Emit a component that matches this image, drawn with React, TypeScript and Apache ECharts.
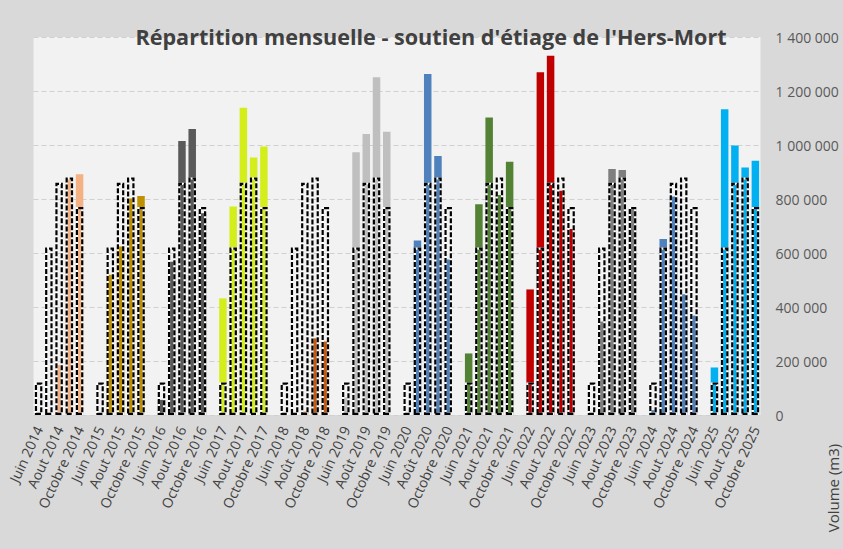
import React, { useEffect, useRef } from "react";
import * as echarts from "echarts";

const years = ["2014", "2015", "2016", "2017", "2018", "2019", "2020", "2021", "2022", "2023", "2024", "2025"];
const months = ["Juin", "Juillet", "Aout", "Septembre", "Octobre"];
const accentYears = ["2018", "2019", "2020"]; // "Août" spelled with accent on these years

// Objective volumes (dashed outline), per month Juin..Octobre
const objectif = [120000, 620000, 860000, 880000, 770000];

// Monthly released volumes (m3), Juin..Octobre
const v2014 = [0, 0, 185000, 878000, 892000];
const v2015 = [0, 519000, 624000, 802000, 811000];
const v2016 = [56000, 568000, 1015000, 1059000, 747000];
const v2017 = [432000, 772000, 1138000, 954000, 994000];
const v2018 = [0, 0, 12000, 284000, 272000];
const v2019 = [65000, 973000, 1041000, 1251000, 1049000];
const v2020 = [0, 646000, 1263000, 959000, 576000];
const v2021 = [228000, 781000, 1102000, 815000, 938000];
const v2022 = [465000, 1269000, 1331000, 831000, 689000];
const v2023 = [0, 346000, 911000, 907000, 768000];
const v2024 = [18000, 652000, 809000, 447000, 368000];
const v2025 = [176000, 1132000, 998000, 917000, 942000];
const volumes = [v2014, v2015, v2016, v2017, v2018, v2019, v2020, v2021, v2022, v2023, v2024, v2025];

const yearColors = ["#F4B183", "#BF9000", "#5A5A5A", "#D4EE1C", "#C55A11", "#BFBFBF", "#4F81BD", "#548235", "#C00000", "#7F7F7F", "#4F81BD", "#00B0F0"];

const FONT = "'Open Sans', 'Noto Sans', sans-serif";

export default function App() {
  const ref = useRef<HTMLDivElement>(null);

  useEffect(() => {
    if (!ref.current) return;
    const chart = echarts.init(ref.current, null, { renderer: "svg" });

    const categories: string[] = [];
    const volData: any[] = [];
    const objData: any[] = [];
    years.forEach((y, yi) => {
      months.forEach((m, mi) => {
        const name = m === "Aout" && accentYears.includes(y) ? "Août" : m;
        categories.push(name + " " + y);
        const v = volumes[yi][mi];
        volData.push({ value: v, itemStyle: { color: yearColors[yi] } });
        objData.push(objectif[mi]);
      });
      if (yi < years.length - 1) {
        categories.push("");
        volData.push("-");
        objData.push("-");
      }
    });

    const fmt = (v: number) => String(v).replace(/\B(?=(\d{3})+(?!\d))/g, " ");
    const bw = 7.5;

    chart.setOption({
      animation: false,
      backgroundColor: "#D9D9D9",
      title: {
        text: "Répartition mensuelle - soutien d'étiage de l'Hers-Mort",
        left: 426,
        top: 20,
        textAlign: "center",
        textStyle: { fontFamily: FONT, fontWeight: "bold", fontSize: 21.6, color: "#404040" },
      },
      grid: {
        left: 33.5,
        right: 82.5,
        top: 37,
        bottom: 134,
        show: true,
        backgroundColor: "#F2F2F2",
        borderWidth: 0,
      },
      xAxis: {
        type: "category",
        data: categories,
        axisLine: { show: false },
        axisTick: { show: false },
        axisLabel: {
          interval: 1,
          rotate: 65,
          margin: 12,
          fontFamily: FONT,
          fontSize: 14,
          color: "#404040",
        },
      },
      yAxis: {
        type: "value",
        position: "right",
        min: 0,
        max: 1400000,
        interval: 200000,
        axisLine: { show: false },
        axisTick: { show: false },
        axisLabel: {
          margin: 15,
          fontFamily: FONT,
          fontSize: 14,
          color: "#595959",
          formatter: fmt,
        },
        splitLine: { lineStyle: { type: [5, 3], color: "#D0D0D0", width: 1 } },
      },
      graphic: [
        {
          type: "text",
          x: 825,
          y: 488,
          rotation: Math.PI / 2,
          style: {
            text: "Volume (m3)",
            fontFamily: FONT,
            fontSize: 15,
            fill: "#404040",
            textAlign: "center",
            textVerticalAlign: "top",
          },
        },
      ],
      series: [
        {
          name: "Volume",
          type: "bar",
          barWidth: bw,
          barGap: "-100%",
          data: volData,
          z: 2,
        },
        {
          name: "Objectif fond",
          type: "bar",
          barWidth: bw,
          barGap: "-100%",
          data: objData,
          itemStyle: { color: "transparent", borderColor: "#FFFFFF", borderWidth: 2.2 },
          z: 3,
        },
        {
          name: "Objectif",
          type: "bar",
          barWidth: bw,
          barGap: "-100%",
          data: objData,
          itemStyle: { color: "transparent", borderColor: "#000000", borderWidth: 2.2, borderType: [5, 2] },
          z: 4,
        },
      ],
    });

    return () => chart.dispose();
  }, []);

  return (
    <div
      ref={ref}
      style={{ position: "fixed", left: 0, top: 0, width: 843, height: 549 }}
    />
  );
}
